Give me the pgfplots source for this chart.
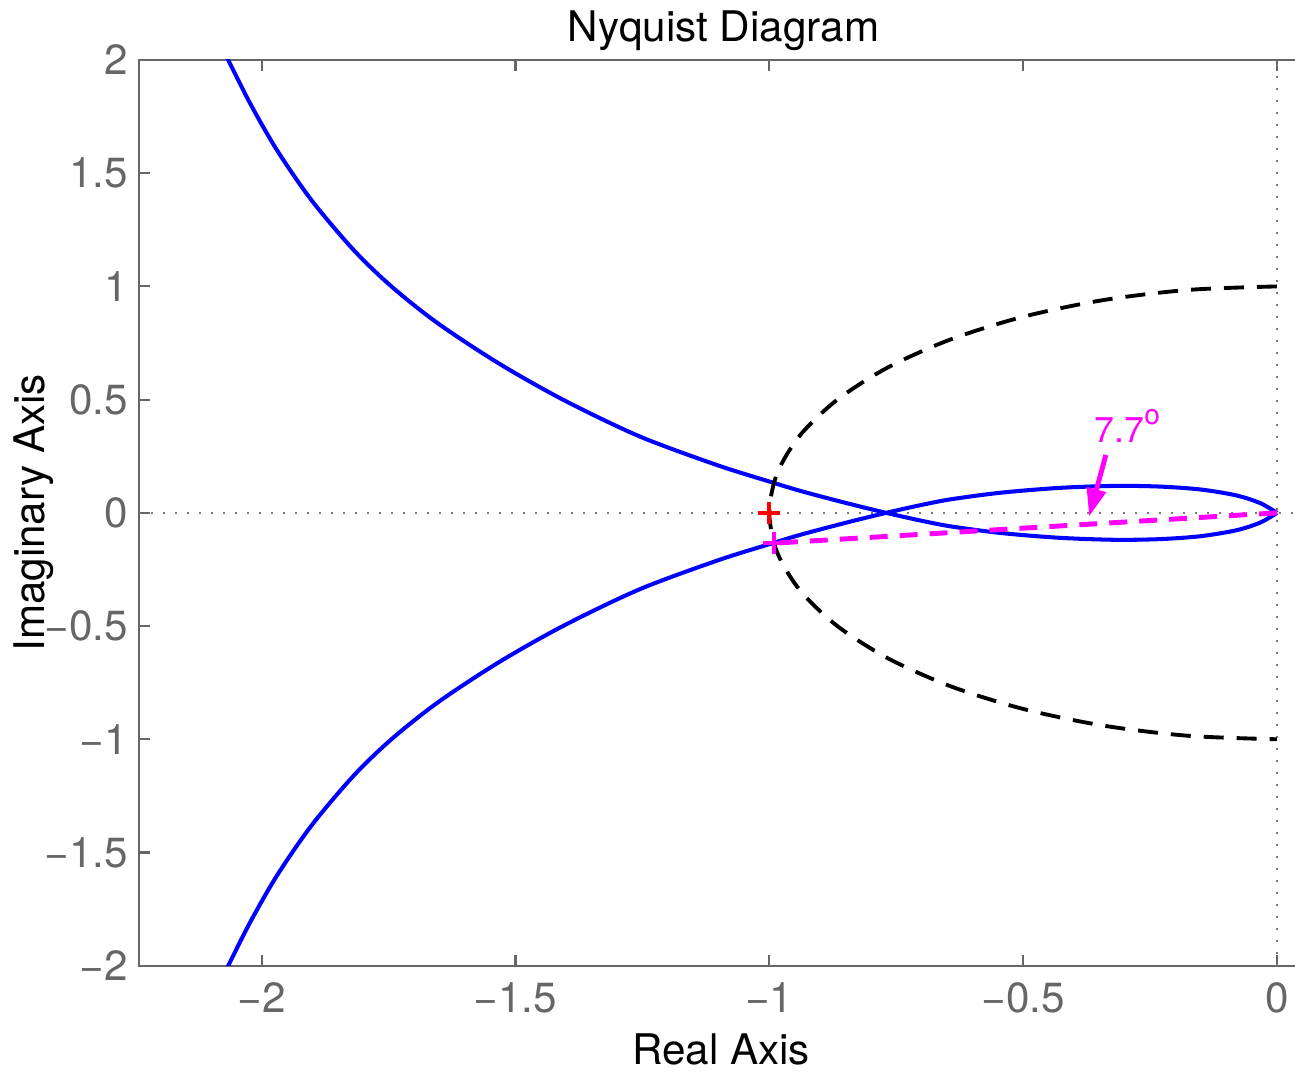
\documentclass[border=0pt]{standalone}
\usepackage{fontspec}
\setmainfont{TeX Gyre Heros}
\usepackage{pgfplots}
\pgfplotsset{compat=1.18}
\usetikzlibrary{arrows.meta}

\definecolor{axgray}{RGB}{102,102,102}
\definecolor{dotgray}{RGB}{120,120,120}
\definecolor{mlblue}{RGB}{0,0,255}
\definecolor{mlmag}{RGB}{255,0,255}

\begin{document}
\begin{tikzpicture}[font=\fontsize{12}{14}\selectfont]
\begin{axis}[
  scale only axis,
  width=116.04mm, height=90.57mm,
  xmin=-2.241, xmax=0.045,
  ymin=-2, ymax=2,
  xtick={-2,-1.5,-1,-0.5,0},
  xticklabels={−2,−1.5,−1,−0.5,0},
  ytick={-2,-1.5,-1,-0.5,0,0.5,1,1.5,2},
  yticklabels={−2,−1.5,−1,−0.5,0,0.5,1,1.5,2},
  ytick pos=left,
  tick align=inside,
  major tick length=1.1mm,
  tick style={axgray, line width=0.6pt},
  axis line style={axgray, line width=0.6pt},
  tick label style={text=axgray},
  xticklabel style={anchor=base, yshift=-4.7mm},
  yticklabel style={anchor=east, inner sep=0pt, xshift=-1.1mm},
  title={Nyquist Diagram},
  xlabel={Real Axis},
  ylabel={Imaginary Axis},
  every axis title/.style={at={(axis description cs:0.5033,1.0199)}, anchor=base},
  every axis x label/.style={at={(axis description cs:0.5012,-0.1096)}, anchor=base},
  every axis y label/.style={at={(axis description cs:-0.0814,0.5)}, rotate=90, anchor=base},
]

% dotted lines through the origin
\addplot[dotgray, line width=0.6pt, dash pattern=on 0.2mm off 1mm] coordinates {(-2.241,0) (0.045,0)};
\addplot[dotgray, line width=0.6pt, dash pattern=on 0.2mm off 1mm] coordinates {(0,-2) (0,2)};

% negative frequencies (upper left branch, lower loop)
\addplot[mlblue, line width=1.15pt, smooth] coordinates {
  (-2.077,2.05) (-2.066,2.0) (-2.023,1.809) (-1.970,1.602) (-1.902,1.381)
  (-1.819,1.161) (-1.744,0.999) (-1.653,0.837) (-1.533,0.660) (-1.405,0.498)
  (-1.256,0.338) (-1.103,0.211) (-0.998,0.137) (-0.939,0.097) (-0.855,0.047)
  (-0.770,0) (-0.70,-0.035) (-0.642,-0.060) (-0.544,-0.089) (-0.43,-0.110)
  (-0.32,-0.119) (-0.23,-0.116) (-0.15,-0.103) (-0.08,-0.077) (-0.033,-0.043) (0,0)
};
% positive frequencies (lower left branch, upper loop)
\addplot[mlblue, line width=1.15pt, smooth] coordinates {
  (-2.077,-2.05) (-2.066,-2.0) (-2.023,-1.809) (-1.970,-1.602) (-1.902,-1.381)
  (-1.819,-1.161) (-1.744,-0.999) (-1.653,-0.837) (-1.533,-0.660) (-1.405,-0.498)
  (-1.256,-0.338) (-1.103,-0.211) (-0.998,-0.137) (-0.939,-0.097) (-0.855,-0.047)
  (-0.770,0) (-0.70,0.035) (-0.642,0.060) (-0.544,0.089) (-0.43,0.110)
  (-0.32,0.119) (-0.23,0.116) (-0.15,0.103) (-0.08,0.077) (-0.033,0.043) (0,0)
};

% unit circle, left half
\addplot[black, line width=1.1pt, dash pattern=on 2mm off 1.3mm, smooth] coordinates {
  (0,1) (-0.1736,0.9848) (-0.3420,0.9397) (-0.5,0.8660) (-0.6428,0.7660)
  (-0.7660,0.6428) (-0.8660,0.5) (-0.9397,0.3420) (-0.9848,0.1736) (-1,0)
  (-0.9848,-0.1736) (-0.9397,-0.3420) (-0.8660,-0.5) (-0.7660,-0.6428)
  (-0.6428,-0.7660) (-0.5,-0.8660) (-0.3420,-0.9397) (-0.1736,-0.9848) (0,-1)
};

% phase margin
\addplot[mlmag, line width=1.4pt, dash pattern=on 1.8mm off 1.2mm] coordinates {(0,0) (-0.991,-0.134)};
\addplot[only marks, mark=+, mark size=1.1mm, red, mark options={line width=1.1pt}] coordinates {(-1,0)};
\addplot[only marks, mark=+, mark size=1.1mm, mlmag, mark options={line width=1.1pt}] coordinates {(-0.991,-0.134)};

\draw[mlmag, line width=1.4pt, -{Triangle[width=1.9mm,length=2.8mm]}]
  (axis cs:-0.337,0.256) -- (axis cs:-0.370,-0.016);
\node[mlmag, anchor=base west, inner sep=0pt, font=\fontsize{10.2}{12}\selectfont]
  at (axis cs:-0.3606,0.309) {7.7\raisebox{0.5em}{\fontsize{8}{9}\selectfont o}};

\end{axis}
\pgfresetboundingbox
\path[use as bounding box] (-13.94mm,-10.73mm) rectangle (115.56mm,96.57mm);
\end{tikzpicture}
\end{document}
